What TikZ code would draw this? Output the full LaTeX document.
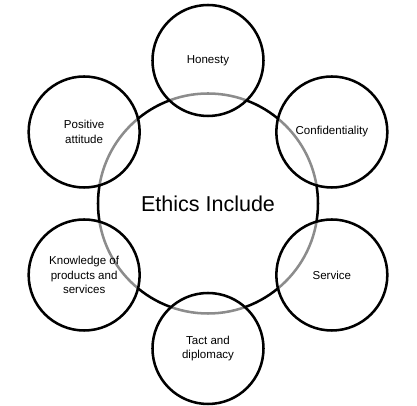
\documentclass[tikz,border=0pt]{standalone}
\usepackage{fontspec}
\setmainfont{Liberation Sans}
\usepackage{tikz}
\usetikzlibrary{positioning}

\begin{document}
\begin{tikzpicture}[x=0.025cm, y=0.025cm, thick]
    \tikzstyle{hub} = [draw, circle, line width=1.8pt, minimum size=220*0.025cm, inner sep=0pt, font=\fontsize{15.3}{18}\selectfont]
    \tikzstyle{part} = [draw, circle, line width=1.8pt, minimum size=111*0.025cm, inner sep=0pt, fill=white, fill opacity=0.55, text opacity=1, align=center, font=\fontsize{8.2}{10.3}\selectfont]

    \useasboundingbox (-208,-202.5) rectangle (209,203.5);

    \node [hub] (ethics) at (0,0) {Ethics Include};
    \node [part] (honesty) at (90:143) {Honesty};
    \node [part] (confid) at (30:143) {Confidentiality};
    \node [part] (service) at (-30:143) {Service};
    \node [part] (tact) at (-90:145) {Tact and\\diplomacy};
    \node [part] (knowledge) at (210:143) {Knowledge of\\products and\\services};
    \node [part] (positive) at (150:143) {Positive\\attitude};
\end{tikzpicture}
\end{document}
